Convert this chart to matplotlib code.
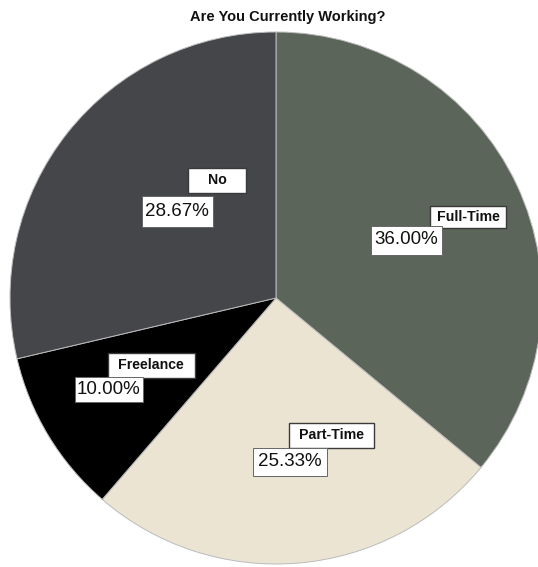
import matplotlib.pyplot as plt
from matplotlib.patches import Rectangle

plt.rcParams['font.family'] = ['Liberation Sans', 'DejaVu Sans']

title = "Are You Currently Working?"
categories = ["Full-Time", "Part-Time", "Freelance", "No"]
values = [36.00, 25.33, 10.00, 28.67]
colors = ["#5b6559", "#ebe4d2", "#000000", "#45464a"]
pct_labels = ["36.00%", "25.33%", "10.00%", "28.67%"]

W, H = 538, 567
fig = plt.figure(figsize=(W / 100, H / 100), dpi=100)
ax = fig.add_axes([0, 0, 1, 1])

cx, cy, r = 276, H - 298, 266
ax.pie(values, colors=colors, startangle=90, counterclock=False,
       center=(cx, cy), radius=r, frame=True,
       wedgeprops=dict(edgecolor='#bbbbbb', linewidth=0.7))
ax.set_xlim(0, W)
ax.set_ylim(0, H)
ax.set_aspect('equal')
ax.axis('off')

# label box layout in pixel coords (center x, center y from top, width, height)
name_boxes = [(468, 217, 76, 22), (331, 435, 85, 25), (151, 365, 87, 25), (217, 180, 58, 25)]
pct_boxes = [(406, 240, 71, 29), (290, 462, 74, 28), (109, 389, 68, 25), (177, 211, 71, 31)]

for name, pct, nb, pb in zip(categories, pct_labels, name_boxes, pct_boxes):
    x, y, w, h = nb
    ax.add_patch(Rectangle((x - w / 2, H - y - h / 2), w, h, facecolor='white',
                           edgecolor='#3a3a3a', linewidth=1.0, zorder=5))
    ax.text(x, H - y, name, ha='center', va='center', fontsize=10.2, fontweight='bold',
            color='#111111', zorder=6)
    x, y, w, h = pb
    ax.add_patch(Rectangle((x - w / 2, H - y - h / 2), w, h, facecolor='white',
                           edgecolor='#666666', linewidth=0.7, zorder=5))
    ax.text(x, H - y, pct, ha='center', va='center', fontsize=13.5, color='#111111', zorder=6)

ax.text(288, H - 17, title, ha='center', va='center', fontsize=10.5, fontweight='bold',
        color='#111111')

fig.savefig('out.png', dpi=100)
